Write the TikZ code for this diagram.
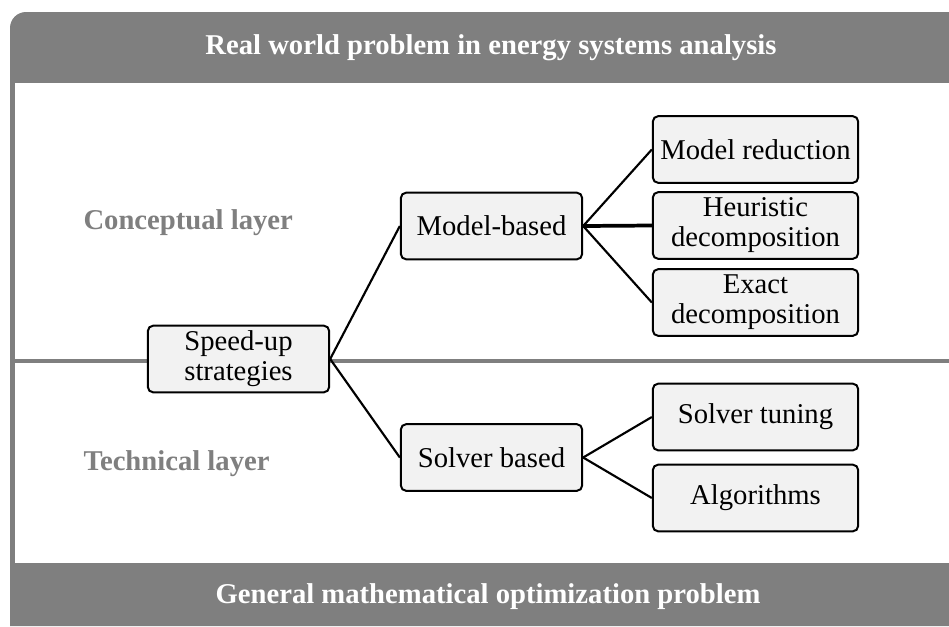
\documentclass[tikz,border=0pt]{standalone}
\usepackage{fontspec}
\setmainfont{Liberation Serif}
\newcommand{\boxfont}{\fontsize{21.5pt}{22.5pt}\selectfont}

\definecolor{bandgray}{HTML}{7F7F7F}
\definecolor{boxfill}{HTML}{F2F2F2}

\tikzset{%
  every box/.style={
    rectangle,
    draw,
    rounded corners=4pt,
    line width=1.5pt,
    fill=boxfill,
    align=center,
    minimum height=50pt,
    font=\boxfont
  },
  box left/.style={
    minimum width=136pt
  },
  box right/.style={
    minimum width=154pt
  },
  every band/.style={
    text=white,
    font=\bfseries\boxfont
  },
  every layer/.style={
    anchor=west,
    text=bandgray,
    font=\bfseries\boxfont
  },
}

\begin{document}
\begin{tikzpicture}[x=0.75pt, y=-0.75pt, line width=1.6pt]

\useasboundingbox (0,0) rectangle (949,626);

% frame and layers
\fill [bandgray] (10,626) [rounded corners=12pt] -- (10,12) [sharp corners] -- (949,12) -- (949,626) -- cycle;
\fill [white] (15,83) rectangle (949,563);
\draw [bandgray, line width=3pt] (15,361) -- (949,361);

\node [every band] (top) at (491,48) {Real world problem in energy systems analysis};
\node [every band] (bottom) at (488,597) {General mathematical optimization problem};

\node [every layer] (conceptual) at (78,223) {Conceptual layer};
\node [every layer] (technical) at (78,464) {Technical layer};

% strategies
\node [every box, box left] (speed) at (238.5,359) {Speed-up\\strategies};
\node [every box, box left] (model) at (491.5,226) {Model-based};
\node [every box, box left] (solver) at (491.5,457.5) {Solver based};

\foreach \m/\l/\py in {reduction/{Model reduction}/149.5, heuristic/{Heuristic\\decomposition}/225.5, exact/{Exact\\decomposition}/302.5}
  \node [every box, box right] (model-\m) at (755.5,\py) {\l};

\foreach \m/\l/\py in {tuning/{Solver tuning}/417, algorithms/{Algorithms}/498}
  \node [every box, box right] (solver-\m) at (755.5,\py) {\l};

% connectors
\foreach \j in {model,solver}
  \draw (speed.east) -- (\j.west);

\foreach \j in {reduction,exact}
  \draw (model.east) -- (model-\j.west);
\draw [line width=2.8pt] (model.east) -- (model-heuristic.west);

\foreach \j in {tuning,algorithms}
  \draw (solver.east) -- (solver-\j.west);

\end{tikzpicture}
\end{document}
